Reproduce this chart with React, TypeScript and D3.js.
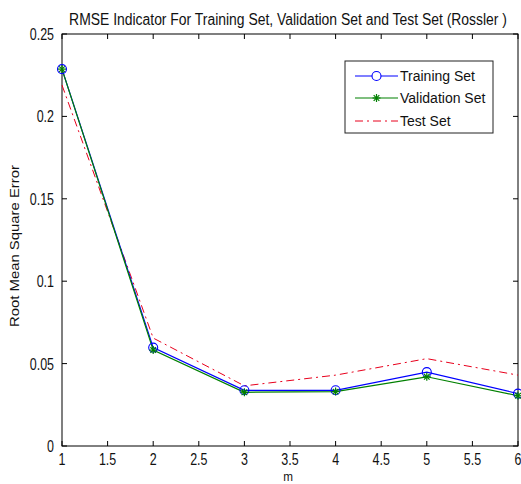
import React from "react";
import * as d3 from "d3";

// Embedding dimension m and RMSE values per data split
const mValues = [1, 2, 3, 4, 5, 6];
const trainingRmse = [0.2287, 0.0597, 0.0338, 0.0338, 0.0448, 0.0318];
const validationRmse = [0.2287, 0.0582, 0.0326, 0.0330, 0.0420, 0.0305];
const testRmse = [0.2190, 0.0655, 0.0365, 0.0430, 0.0530, 0.0430];

const xTicks = [1, 1.5, 2, 2.5, 3, 3.5, 4, 4.5, 5, 5.5, 6];
const yTicks = [0, 0.05, 0.1, 0.15, 0.2, 0.25];
const seriesNames = ["Training Set", "Validation Set", "Test Set"];

const W = 521;
const H = 484;
const left = 62;
const right = 518;
const top = 34;
const bottom = 446;

const FONT = "'Liberation Sans', Arial, Helvetica, sans-serif";

export default function App() {
  const x = d3.scaleLinear().domain([1, 6]).range([left, right]);
  const y = d3.scaleLinear().domain([0, 0.25]).range([bottom, top]);

  const line = d3
    .line<number>()
    .x((_, i) => x(mValues[i]))
    .y((d) => y(d));

  const fmtY = (v: number) => (v === 0 ? "0" : String(+v.toFixed(2)));
  const fmtX = (v: number) => String(v);

  const tickLen = 5;

  const star = (cx: number, cy: number, r: number, key: string, color: string) => (
    <g key={key} stroke={color} strokeWidth={1.2}>
      <line x1={cx - r} y1={cy} x2={cx + r} y2={cy} />
      <line x1={cx} y1={cy - r} x2={cx} y2={cy + r} />
      <line x1={cx - r * 0.7} y1={cy - r * 0.7} x2={cx + r * 0.7} y2={cy + r * 0.7} />
      <line x1={cx - r * 0.7} y1={cy + r * 0.7} x2={cx + r * 0.7} y2={cy - r * 0.7} />
    </g>
  );

  const legendX = 345;
  const legendY = 61;
  const legendW = 148;
  const legendH = 72;
  const rows = [76, 98, 121];
  const lx1 = 355;
  const lx2 = 398;
  const lmid = (lx1 + lx2) / 2;

  return (
    <svg
      width={W}
      height={H}
      style={{ position: "absolute", left: 0, top: 0, background: "#fff" }}
      fontFamily={FONT}
    >
      <rect x={0} y={0} width={W} height={H} fill="#fff" />

      {/* Title */}
      <text
        transform="translate(288,25) scale(0.87,1)"
        textAnchor="middle"
        fontSize={16}
        fill="#111"
      >
        RMSE Indicator For Training Set, Validation Set and Test Set (Rossler )
      </text>

      {/* Axis frame */}
      <rect x={left} y={top} width={right - left} height={bottom - top} fill="none" stroke="#000" strokeWidth={1} />

      {/* X ticks (bottom and top, inward) */}
      {xTicks.map((t) => (
        <g key={`xt${t}`}>
          <line x1={x(t)} x2={x(t)} y1={bottom} y2={bottom - tickLen} stroke="#000" />
          <line x1={x(t)} x2={x(t)} y1={top} y2={top + tickLen} stroke="#000" />
          <text
            transform={`translate(${x(t)},${465}) scale(0.78,1)`}
            textAnchor="middle"
            fontSize={16}
            fill="#111"
          >
            {fmtX(t)}
          </text>
        </g>
      ))}

      {/* Y ticks (left and right, inward) */}
      {yTicks.map((t) => (
        <g key={`yt${t}`}>
          <line x1={left} x2={left + tickLen} y1={y(t)} y2={y(t)} stroke="#000" />
          <line x1={right} x2={right - tickLen} y1={y(t)} y2={y(t)} stroke="#000" />
          <text
            transform={`translate(${54},${y(t) + 6}) scale(0.78,1)`}
            textAnchor="end"
            fontSize={16}
            fill="#111"
          >
            {fmtY(t)}
          </text>
        </g>
      ))}

      {/* Axis labels */}
      <text
        transform={`translate(288,481) scale(0.9,1)`}
        textAnchor="middle"
        fontSize={13}
        fill="#111"
      >
        m
      </text>
      <text
        transform={`translate(19,246) rotate(-90)`}
        textAnchor="middle"
        fontSize={13}
        textLength={162}
        lengthAdjust="spacingAndGlyphs"
        fill="#111"
      >
        Root Mean Square Error
      </text>

      {/* Series */}
      <path d={line(testRmse) ?? ""} fill="none" stroke="#e8001c" strokeWidth={1} strokeDasharray="8,4,2,4" />
      <path d={line(trainingRmse) ?? ""} fill="none" stroke="#0000ff" strokeWidth={1.2} />
      <path d={line(validationRmse) ?? ""} fill="none" stroke="#008000" strokeWidth={1.2} />

      {trainingRmse.map((v, i) => (
        <circle key={`c${i}`} cx={x(mValues[i])} cy={y(v)} r={4.5} fill="none" stroke="#0000ff" strokeWidth={1.1} />
      ))}
      {validationRmse.map((v, i) => star(x(mValues[i]), y(v), 4, `s${i}`, "#008000"))}

      {/* Legend */}
      <rect x={legendX} y={legendY} width={legendW} height={legendH} fill="#fff" stroke="#222" strokeWidth={1} />
      <line x1={lx1} x2={lx2} y1={rows[0]} y2={rows[0]} stroke="#0000ff" strokeWidth={1.2} />
      <circle cx={lmid} cy={rows[0]} r={4.5} fill="#fff" stroke="#0000ff" strokeWidth={1.1} />
      <line x1={lx1} x2={lx2} y1={rows[1]} y2={rows[1]} stroke="#008000" strokeWidth={1.2} />
      {star(lmid, rows[1], 4, "ls", "#008000")}
      <line x1={lx1} x2={lx2} y1={rows[2]} y2={rows[2]} stroke="#e8001c" strokeWidth={1} strokeDasharray="8,4,2,4" />
      {seriesNames.map((name, i) => (
        <text key={name} x={400} y={rows[i] + 5} fontSize={14} fill="#111">
          {name}
        </text>
      ))}
    </svg>
  );
}
